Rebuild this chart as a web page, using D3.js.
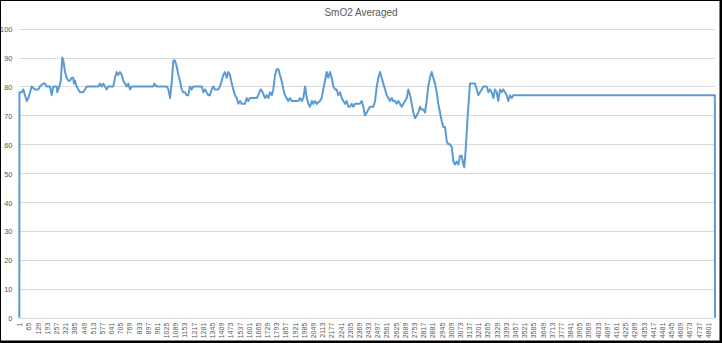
<!DOCTYPE html>
<html>
<head>
<meta charset="utf-8">
<script src="https://cdn.jsdelivr.net/npm/d3@7"></script>
<style>
  html, body { margin: 0; padding: 0; background: #fff; }
  svg { display: block; font-family: "Liberation Sans", Arial, sans-serif; }
</style>
</head>
<body>
<svg id="chart" width="722" height="343"></svg>
<script>
const chartTitle = "SmO2 Averaged";
const rowCount = 4851;
const yTicks = [0, 10, 20, 30, 40, 50, 60, 70, 80, 90, 100];
const xTickLabels = [1,65,129,193,257,321,385,449,513,577,641,705,769,833,897,961,1025,1089,1153,1217,1281,1345,1409,1473,1537,1601,1665,1729,1793,1857,1921,1985,2049,2113,2177,2241,2305,2369,2433,2497,2561,2625,2689,2753,2817,2881,2945,3009,3073,3137,3201,3265,3329,3393,3457,3521,3585,3649,3713,3777,3841,3905,3969,4033,4097,4161,4225,4289,4353,4417,4481,4545,4609,4673,4737,4801];
// [row, SmO2] samples
const smo2Samples = [
[1,0],[2,78],[18,78],[29,79],[41,77],[53,75],[64,76],[76,78],[87,80],[110,79],[133,79],[145,80],[168,81],[180,81],[192,80],[215,80],[227,77],[238,80],[262,80],[266,78],[280,80],[290,82],[301,90],[308,89],[320,85],[331,83],[343,82],[354,82],[366,83],[377,83],[382,81],[389,82],[401,80],[412,79],[424,78],[447,78],[459,79],[471,80],[552,80],[564,81],[575,80],[587,81],[598,80],[610,79],[621,80],[656,80],[668,83],[680,85],[691,84],[703,85],[715,84],[726,82],[738,81],[750,80],[761,81],[773,79],[785,80],[935,80],[942,81],[959,80],[1029,80],[1040,79],[1052,76],[1063,81],[1075,89],[1086,89],[1098,87],[1110,84],[1121,82],[1133,79],[1144,78],[1156,78],[1168,77],[1179,77],[1191,80],[1203,79],[1214,80],[1273,80],[1284,78],[1296,79],[1307,78],[1319,77],[1330,77],[1342,79],[1353,80],[1365,79],[1388,79],[1400,80],[1412,82],[1423,84],[1435,85],[1447,83],[1458,85],[1470,84],[1482,81],[1493,79],[1505,77],[1517,76],[1528,74],[1540,75],[1551,74],[1574,74],[1586,76],[1597,75],[1609,76],
[1656,76],[1667,77],[1684,79],[1698,78],[1714,76],[1726,77],[1737,76],[1749,78],[1761,77],[1772,79],[1784,84],[1795,86],[1807,86],[1818,84],[1830,82],[1842,79],[1853,77],[1865,76],[1876,75],[1888,76],[1900,75],[1946,75],[1958,76],[1970,75],[1981,76],[1993,80],[2005,76],[2016,74],[2028,73],[2040,75],[2051,74],[2062,75],[2074,74],[2097,75],[2109,76],[2120,79],[2132,82],[2144,85],[2155,83],[2167,85],[2179,83],[2190,80],[2202,79],[2214,79],[2225,77],[2237,78],[2249,76],[2260,75],[2272,74],[2283,75],[2295,73],[2306,73],[2318,74],[2330,73],[2341,74],[2364,74],[2376,74],[2388,75],[2399,73],[2411,70],[2423,71],[2434,72],[2446,73],[2469,73],[2481,75],[2493,80],[2504,83],[2516,85],[2527,83],[2539,81],[2551,79],[2562,77],[2574,76],[2585,75],[2597,76],[2608,75],[2620,75],[2632,74],[2643,75],[2655,74],[2667,73],[2678,74],[2690,75],[2702,76],[2713,79],[2725,77],[2737,74],[2748,71],[2760,69],[2772,70],[2783,71],[2795,73],[2806,72],[2818,72],[2829,71],[2841,75],[2852,80],[2864,83],[2876,85],[2887,83],[2899,81],[2911,78],[2922,74],[2934,71],[2946,68],[2957,66],[2969,66],[2981,61],[2992,60],[3004,60],[3016,59],[3027,54],[3039,53],[3050,54],[3062,53],[3073,56],[3085,56],[3096,53],[3103,52],[3113,58],[3127,70],[3143,81],[3178,81],[3190,79],[3201,77],[3213,78],[3225,79],[3236,80],[3260,80],[3271,78],[3283,79],[3294,78],[3306,76],[3317,79],[3329,78],[3340,75],[3352,79],[3364,78],[3375,79],[3387,78],[3399,77],[3410,75],[3422,77],[3434,76],[3445,77],[4850,77],[4851,0]
];

const svg = d3.select("#chart");
const W = 722, H = 343;
const plot = { left: 19.3, right: 715, top: 28.7, bottom: 317.7 };

svg.append("rect").attr("width", W).attr("height", H).attr("fill", "#fff");

const x = d3.scaleLinear().domain([1, rowCount]).range([plot.left, plot.right]);
const y = d3.scaleLinear().domain([0, 100]).range([plot.bottom, plot.top]);

// gridlines
svg.append("g").selectAll("line").data(yTicks).join("line")
  .attr("x1", plot.left).attr("x2", plot.right)
  .attr("y1", d => Math.round(y(d)) + 0.5).attr("y2", d => Math.round(y(d)) + 0.5)
  .attr("stroke", "#d9d9d9").attr("stroke-width", 1);

// y axis labels
const yAxis = d3.axisLeft(y).tickValues(yTicks).tickSize(0).tickPadding(0);
const gy = svg.append("g").attr("transform", `translate(12.5,0.5)`).call(yAxis);
gy.select(".domain").remove();
gy.selectAll("text").attr("fill", "#595959").style("font-size", "7.5px")
  .style("font-family", '"Liberation Sans", Arial, sans-serif');

// x axis labels (rotated)
const xAxis = d3.axisBottom(x).tickValues(xTickLabels).tickSize(0).tickPadding(0).tickFormat(d3.format("d"));
const gx = svg.append("g").attr("transform", `translate(0,${plot.bottom})`).call(xAxis);
gx.select(".domain").remove();
gx.selectAll("text")
  .attr("fill", "#595959")
  .style("font-size", "7px")
  .style("font-family", '"Liberation Sans", Arial, sans-serif')
  .attr("text-anchor", "end")
  .attr("transform", "translate(0,5) rotate(-90)")
  .attr("x", 0).attr("y", 0).attr("dy", "0.35em");

// line
const line = d3.line().x(d => x(d[0])).y(d => y(d[1]));
svg.append("path").datum(smo2Samples)
  .attr("d", line)
  .attr("fill", "none")
  .attr("stroke", "#5B9BD5")
  .attr("stroke-width", 2)
  .attr("stroke-linejoin", "round");

// title
svg.append("text").attr("x", 361).attr("y", 15.7)
  .attr("text-anchor", "middle").attr("fill", "#595959")
  .style("font-size", "10px").text(chartTitle);

// black frame
svg.append("rect").attr("x", 0).attr("y", 0).attr("width", W).attr("height", 1).attr("fill", "#000");
svg.append("rect").attr("x", 0).attr("y", 0).attr("width", 1).attr("height", H).attr("fill", "#000");
svg.append("rect").attr("x", 0).attr("y", H - 2.5).attr("width", W).attr("height", 2.5).attr("fill", "#000");
svg.append("rect").attr("x", W - 2.5).attr("y", 0).attr("width", 2.5).attr("height", H).attr("fill", "#000");
</script>
</body>
</html>
